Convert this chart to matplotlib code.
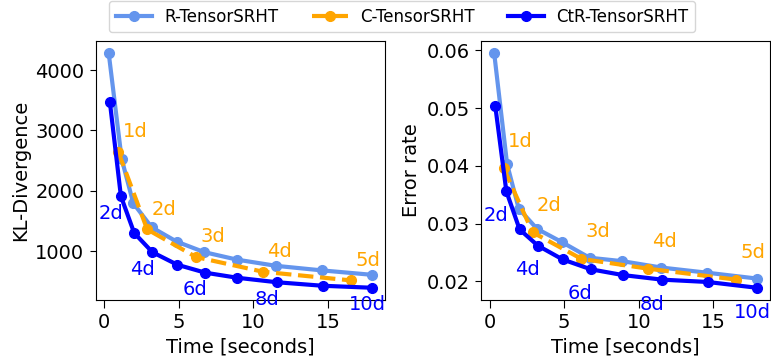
import matplotlib
matplotlib.use("Agg")
import matplotlib.pyplot as plt

# ---- data ----
time_R = [0.30, 1.17, 1.95, 3.18, 4.85, 6.70, 8.91, 11.52, 14.61, 17.91]
time_C = [0.94, 2.88, 6.16, 10.64, 16.56]
time_CtR = [0.38, 1.12, 2.01, 3.23, 4.90, 6.78, 8.93, 11.58, 14.63, 17.93]

kl_R = [4288, 2530, 1795, 1397, 1160, 985, 860, 758, 682, 610]
kl_C = [2651, 1362, 903, 660, 516]
kl_CtR = [3474, 1911, 1303, 984, 776, 644, 560, 486, 428, 395]

err_R = [0.0596, 0.0403, 0.0326, 0.0291, 0.0268, 0.0241, 0.0235, 0.0224, 0.0215, 0.0205]
err_C = [0.0396, 0.0285, 0.0239, 0.0222, 0.0203]
err_CtR = [0.0503, 0.0356, 0.0290, 0.0262, 0.0238, 0.0221, 0.0211, 0.0203, 0.0199, 0.0189]

labels_C = ["1d", "2d", "3d", "4d", "5d"]
labels_CtR = ["1d", "2d", "3d", "4d", "5d", "6d", "7d", "8d", "9d", "10d"]
labeled_CtR_idx = [1, 3, 5, 7, 9]

names = ["R-TensorSRHT", "C-TensorSRHT", "CtR-TensorSRHT"]
colors = ["cornflowerblue", "orange", "blue"]

FS = 14

fig = plt.figure(figsize=(7.71, 3.61), dpi=100)
ax1 = fig.add_axes([95.5 / 771, 61.5 / 361, (385 - 95.5) / 771, 258.5 / 361])
ax2 = fig.add_axes([481 / 771, 61.5 / 361, (770 - 481) / 771, 258.5 / 361])

panels = [
    (ax1, kl_R, kl_C, kl_CtR, "KL-Divergence", (3.1, 10.7), (-16.3, -16.1)),
    (ax2, err_R, err_C, err_CtR, "Error rate", (3.1, 15.6), (-16.3, -21.5)),
]

handles = None
for ax, yR, yC, yCtR, ylab, off_c, off_b in panels:
    h1, = ax.plot(time_R, yR, "-o", color=colors[0], lw=3, ms=7, label=names[0])
    h2, = ax.plot(time_C, yC, "--o", color=colors[1], lw=3, ms=7, label=names[1])
    h3, = ax.plot(time_CtR, yCtR, "-o", color=colors[2], lw=3, ms=7, label=names[2])
    handles = [h1, h2, h3]
    for t, v, lab in zip(time_C, yC, labels_C):
        ax.annotate(lab, xy=(t, v), xytext=off_c, textcoords="offset points",
                    ha="left", va="baseline", color=colors[1], fontsize=FS,
                    annotation_clip=False)
    for i in labeled_CtR_idx:
        ax.annotate(labels_CtR[i], xy=(time_CtR[i], yCtR[i]), xytext=off_b,
                    textcoords="offset points", ha="left", va="baseline",
                    color=colors[2], fontsize=FS, annotation_clip=False)
    ax.set_xlabel("Time [seconds]", fontsize=FS)
    ax.set_ylabel(ylab, fontsize=FS)
    ax.set_xticks([0, 5, 10, 15])
    ax.tick_params(labelsize=FS)
    ax.tick_params(axis="x", length=5.5, pad=4)
    ax.tick_params(axis="y", length=4, pad=4)

ax1.set_yticks([1000, 2000, 3000, 4000])
ax2.set_yticks([0.02, 0.03, 0.04, 0.05, 0.06])

fig.legend(handles, names, loc="upper center", bbox_to_anchor=(402 / 771, 1 - 1 / 361),
           ncol=3, fontsize=12, borderaxespad=0, handlelength=2.2, handletextpad=0.7,
           columnspacing=2.0, frameon=True)

fig.savefig("out.png", dpi=100)
